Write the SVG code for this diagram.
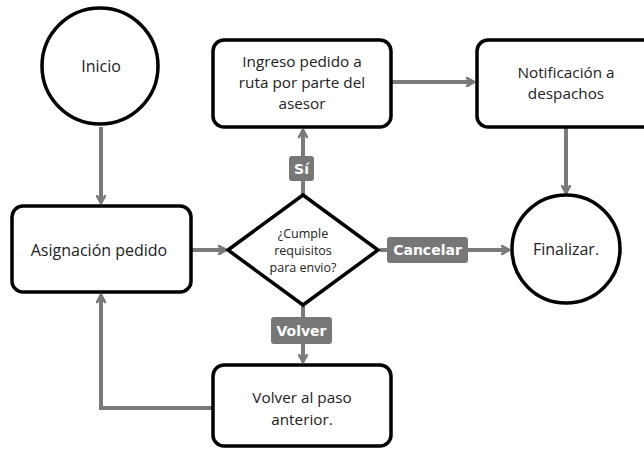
<svg xmlns="http://www.w3.org/2000/svg" width="644" height="449" viewBox="0 0 644 449">
<defs>
<marker id="ah" viewBox="0 0 10 10" refX="8.5" refY="5" markerWidth="10" markerHeight="10" markerUnits="userSpaceOnUse" orient="auto">
<path d="M1.5,1 L8.5,5 L1.5,9" fill="none" stroke="#7a7a7a" stroke-width="2.6" stroke-linecap="round" stroke-linejoin="round"/>
</marker>
</defs>
<style>
.shape{fill:#fff;stroke:#000;stroke-width:3.5}
.t{font-family:"Open Sans","Liberation Sans",sans-serif;font-size:16px;fill:#222;text-anchor:middle}
.tm{font-family:"Open Sans","Liberation Sans",sans-serif;font-size:15.3px;fill:#222;text-anchor:middle}
.td{font-family:"Open Sans","Liberation Sans",sans-serif;font-size:12.5px;fill:#222;text-anchor:middle}
.c{fill:none;stroke:#7a7a7a;stroke-width:4}
.lb{fill:#777;}
.lt{font-family:"DejaVu Sans","Liberation Sans",sans-serif;font-weight:bold;font-size:14px;fill:#fff;text-anchor:middle}
</style>
<rect width="644" height="449" fill="#fff"/>
<g id="connectors">
<line class="c" x1="101" y1="127" x2="101" y2="203" marker-end="url(#ah)"/>
<line class="c" x1="192" y1="250" x2="226" y2="250" marker-end="url(#ah)"/>
<line class="c" x1="303" y1="194" x2="303" y2="130" marker-end="url(#ah)"/>
<line class="c" x1="392" y1="82" x2="474" y2="82" marker-end="url(#ah)"/>
<line class="c" x1="566" y1="128" x2="566" y2="193" marker-end="url(#ah)"/>
<line class="c" x1="380" y1="250" x2="509" y2="250" marker-end="url(#ah)"/>
<line class="c" x1="303" y1="306" x2="303" y2="362" marker-end="url(#ah)"/>
<polyline class="c" points="212,408 101,408 101,295" marker-end="url(#ah)"/>
<g id="lbl-si"><rect class="lb" x="289" y="156" width="25" height="25" rx="3"/><text class="lt" x="301.5" y="173.5">Sí</text></g>
<g id="lbl-cancelar"><rect class="lb" x="387" y="237" width="81" height="26" rx="3"/><text class="lt" x="427.5" y="255">Cancelar</text></g>
<g id="lbl-volver"><rect class="lb" x="271" y="317" width="61" height="27" rx="3"/><text class="lt" x="301.5" y="335.5">Volver</text></g>
</g>
<g id="inicio"><circle class="shape" cx="100" cy="66" r="58"/><text class="t" x="101" y="72">Inicio</text></g>
<g id="asignacion"><rect class="shape" x="12" y="206" width="179" height="86" rx="11"/><text class="t" x="99" y="255.5">Asignación pedido</text></g>
<g id="cumple"><polygon class="shape" points="228,250 303,195 378,250 303,305"/>
<text class="td"><tspan x="303" y="238">¿Cumple</tspan><tspan x="303" y="255">requisitos</tspan><tspan x="303" y="272">para envio?</tspan></text></g>
<g id="ingreso"><rect class="shape" x="213" y="40" width="178" height="87" rx="11"/>
<text class="tm"><tspan x="302" y="67">Ingreso pedido a</tspan><tspan x="302" y="88">ruta por parte del</tspan><tspan x="302" y="109">asesor</tspan></text></g>
<g id="notificacion"><rect class="shape" x="477" y="40" width="180" height="87" rx="11"/>
<text class="tm"><tspan x="566" y="78">Notificación a</tspan><tspan x="566" y="99">despachos</tspan></text></g>
<g id="finalizar"><circle class="shape" cx="566" cy="249" r="54"/><text class="t" x="566" y="255">Finalizar.</text></g>
<g id="volverpaso"><rect class="shape" x="213" y="365" width="178" height="81" rx="11"/>
<text class="tm"><tspan x="302" y="403">Volver al paso</tspan><tspan x="302" y="425">anterior.</tspan></text></g>
</svg>
